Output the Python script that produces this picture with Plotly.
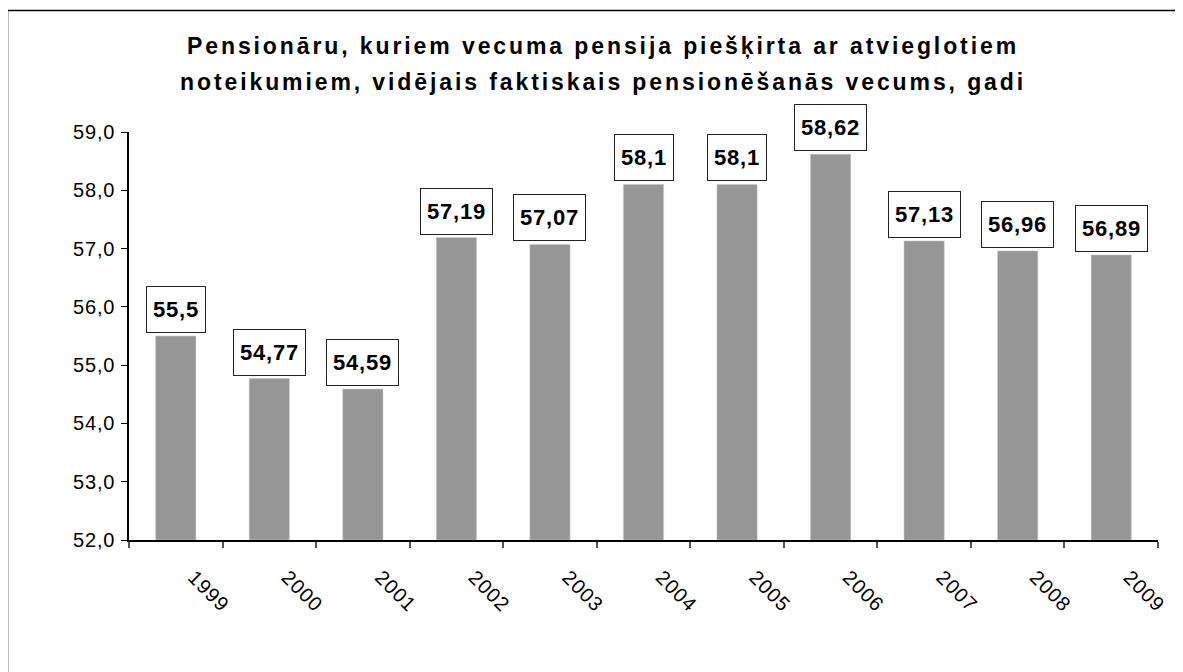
import plotly.graph_objects as go

years = ["1999", "2000", "2001", "2002", "2003", "2004", "2005", "2006", "2007", "2008", "2009"]
values = [55.5, 54.77, 54.59, 57.19, 57.07, 58.1, 58.1, 58.62, 57.13, 56.96, 56.89]
labels = ["55,5", "54,77", "54,59", "57,19", "57,07", "58,1", "58,1", "58,62", "57,13", "56,96", "56,89"]
y_ticks = [52, 53, 54, 55, 56, 57, 58, 59]
y_ticklabels = ["52,0", "53,0", "54,0", "55,0", "56,0", "57,0", "58,0", "59,0"]
y_base = 52
title_lines = ["Pensionāru, kuriem vecuma pensija piešķirta ar atvieglotiem",
               "noteikumiem, vidējais faktiskais pensionēšanās vecums, gadi"]

W, H = 1183, 672
OFF = 8  # page body margin
L, R, T, B = 129 - OFF, 25 + OFF, 132 - OFF, 132 + OFF
pw, ph = W - L - R, H - T - B
FONT = "Arial, Liberation Sans"


def spaced(txt, px):
    return '<span style="letter-spacing:%spx">%s</span>' % (px, txt)


def paper_x(px):
    return (px - OFF - L) / pw


def paper_y(py):
    return (H - B - (py - OFF)) / ph


fig = go.Figure()
fig.add_trace(go.Bar(
    x=list(range(len(years))), y=[v - y_base for v in values], base=y_base,
    marker=dict(color="#969696", line=dict(color="#c8c8c8", width=0.5)),
    hovertext=years, hoverinfo="text+y",
))

annotations = []
for i, (v, lab) in enumerate(zip(values, labels)):
    annotations.append(dict(
        x=i, y=v, xref="x", yref="y", text="<b>" + spaced(lab, 0.8) + "</b>",
        showarrow=False, yanchor="bottom", yshift=3,
        font=dict(family=FONT, size=22, color="black"),
        bgcolor="white", bordercolor="#222222", borderwidth=1, borderpad=6,
        height=33,
    ))

for i, line in enumerate(title_lines):
    annotations.append(dict(
        x=paper_x(603), y=paper_y(46 + 36 * i), xref="paper", yref="paper",
        text="<b>" + spaced(line, 2.9) + "</b>", showarrow=False,
        xanchor="center", yanchor="middle",
        font=dict(family=FONT, size=23, color="black"),
    ))

fig.update_layout(
    width=W, height=H,
    margin=dict(l=L, r=R, t=T, b=B, autoexpand=False),
    paper_bgcolor="white", plot_bgcolor="white",
    separators=", ",
    showlegend=False,
    bargap=0.57,
    annotations=annotations,
    font=dict(family=FONT, color="black"),
    shapes=[dict(
        type="rect", xref="paper", yref="paper",
        x0=paper_x(7.5), x1=paper_x(W + 30),
        y0=paper_y(H + 30), y1=paper_y(10.5),
        line=dict(color="black", width=1.5), fillcolor="rgba(0,0,0,0)", layer="below",
    )],
)
fig.update_xaxes(
    type="linear", range=[-0.5, len(years) - 0.5],
    tickmode="array", tickvals=list(range(len(years))),
    ticktext=[spaced(y, 1) for y in years],
    showline=True, linecolor="black", linewidth=1.5,
    ticks="", tickangle=45, tickfont=dict(size=20, family=FONT),
    ticklabelstandoff=16, ticklabelshift=18,
    minor=dict(tick0=0.5, dtick=1, ticks="outside", ticklen=6, tickcolor="#555555",
               tickwidth=1.5, showgrid=False),
    showgrid=False, zeroline=False,
)
fig.update_yaxes(
    range=[52, 59], tickmode="array",
    tickvals=y_ticks, ticktext=[spaced(t, 0.8) for t in y_ticklabels],
    showline=True, linecolor="black", linewidth=1.5,
    ticks="outside", ticklen=6, tickcolor="black",
    tickfont=dict(size=20, family=FONT),
    ticklabelstandoff=2,
    showgrid=False, zeroline=False,
)
fig.write_html("out.html")
